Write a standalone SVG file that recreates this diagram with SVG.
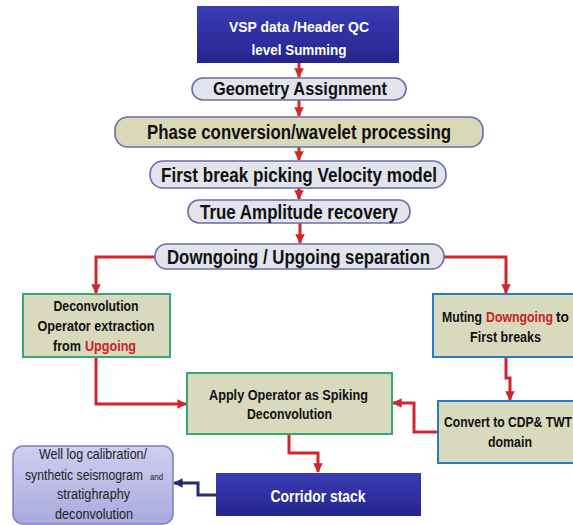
<svg xmlns="http://www.w3.org/2000/svg" width="573" height="525" viewBox="0 0 573 525">
<defs>
<style>
.t{font-family:"Liberation Sans",Arial,sans-serif;font-weight:bold;fill:#111;}
.w{fill:#fff;}
.r{fill:#c8222a;}
.n{font-family:"Liberation Sans",Arial,sans-serif;font-weight:normal;fill:#222;}
.pill{fill:#e3e3ec;stroke:#6b6baa;stroke-width:1.6;}
.pillg{fill:#d9d9b9;stroke:#6b6baa;stroke-width:1.6;}
.boxg{fill:#d9d9bd;stroke:#3aa673;stroke-width:2;}
.boxb{fill:#d9d9bd;stroke:#2a7cc0;stroke-width:2;}
.c{fill:none;stroke:#d0262c;stroke-width:3;}
.cn{fill:none;stroke:#2a2a6e;stroke-width:3;}
</style>
<linearGradient id="gb" x1="0" y1="0" x2="0" y2="1">
<stop offset="0" stop-color="#3b3bb4"/>
<stop offset="1" stop-color="#25258f"/>
</linearGradient>
<linearGradient id="gl" x1="0" y1="0" x2="0" y2="1">
<stop offset="0" stop-color="#cfcff2"/>
<stop offset="1" stop-color="#a9a9dd"/>
</linearGradient>
<marker id="ar" viewBox="0 0 10 10" refX="9" refY="5" markerWidth="3.2" markerHeight="3.2" orient="auto" markerUnits="strokeWidth">
<path d="M0,0 L10,5 L0,10 z" fill="#d0262c"/>
</marker>
<marker id="an" viewBox="0 0 10 10" refX="9" refY="5" markerWidth="3.2" markerHeight="3.2" orient="auto" markerUnits="strokeWidth">
<path d="M0,0 L10,5 L0,10 z" fill="#2a2a6e"/>
</marker>
</defs>
<rect width="573" height="525" fill="#fff"/>

<g id="connectors">
<path class="c" d="M299,63 V77" marker-end="url(#ar)"/>
<path class="c" d="M299,100 V116" marker-end="url(#ar)"/>
<path class="c" d="M299,147 V160" marker-end="url(#ar)"/>
<path class="c" d="M299,188 V199" marker-end="url(#ar)"/>
<path class="c" d="M300,223 V243" marker-end="url(#ar)"/>
<path class="c" d="M155,257 H96 V293" marker-end="url(#ar)"/>
<path class="c" d="M444,257 H506 V293" marker-end="url(#ar)"/>
<path class="c" d="M96,357 V404 H186" marker-end="url(#ar)"/>
<path class="c" d="M506,357 V378 H510 V400" marker-end="url(#ar)"/>
<path class="c" d="M438,432 H414 V403 H393" marker-end="url(#ar)"/>
<path class="c" d="M289,434 V453 H318 V472" marker-end="url(#ar)"/>
<path class="cn" d="M216,495 H198 V483 H174" marker-end="url(#an)"/>
</g>

<g id="vsp">
<rect x="197" y="6" width="202" height="57" fill="url(#gb)"/>
<text class="t w" x="299" y="32" font-size="15" text-anchor="middle" textLength="140" lengthAdjust="spacingAndGlyphs">VSP data /Header QC</text>
<text class="t w" x="299" y="55" font-size="15" text-anchor="middle" textLength="95" lengthAdjust="spacingAndGlyphs">level Summing</text>
</g>

<g id="geometry">
<rect class="pill" x="192" y="78" width="214" height="22" rx="11"/>
<text class="t" x="300" y="95" font-size="17.5" text-anchor="middle" textLength="174" lengthAdjust="spacingAndGlyphs">Geometry Assignment</text>
</g>

<g id="phase">
<rect class="pillg" x="115" y="117" width="368" height="30" rx="13"/>
<text class="t" x="299" y="139" font-size="20" text-anchor="middle" textLength="304" lengthAdjust="spacingAndGlyphs">Phase conversion/wavelet processing</text>
</g>

<g id="firstbreak">
<rect class="pill" x="150" y="161" width="296" height="27" rx="13"/>
<text class="t" x="299" y="182" font-size="20" text-anchor="middle" textLength="276" lengthAdjust="spacingAndGlyphs">First break picking  Velocity model</text>
</g>

<g id="trueamp">
<rect class="pill" x="188" y="200" width="222" height="23" rx="11"/>
<text class="t" x="299" y="219" font-size="20" text-anchor="middle" textLength="198" lengthAdjust="spacingAndGlyphs">True Amplitude recovery</text>
</g>

<g id="separation">
<rect class="pill" x="155" y="244" width="289" height="25" rx="12"/>
<text class="t" x="298.5" y="264" font-size="20" text-anchor="middle" textLength="263" lengthAdjust="spacingAndGlyphs">Downgoing / Upgoing separation</text>
</g>

<g id="deconv">
<rect class="boxg" x="23" y="294" width="147" height="63"/>
<text class="t" x="96" y="311" font-size="14" text-anchor="middle" textLength="85" lengthAdjust="spacingAndGlyphs">Deconvolution</text>
<text class="t" x="96" y="331" font-size="14" text-anchor="middle" textLength="117" lengthAdjust="spacingAndGlyphs">Operator extraction</text>
<text class="t" x="53" y="351" font-size="14" textLength="28" lengthAdjust="spacingAndGlyphs">from</text>
<text class="t r" x="85" y="351" font-size="14" textLength="51" lengthAdjust="spacingAndGlyphs">Upgoing</text>
</g>

<g id="muting">
<rect class="boxb" x="433" y="294" width="147" height="63"/>
<text class="t" x="442" y="322" font-size="14" textLength="40" lengthAdjust="spacingAndGlyphs">Muting</text>
<text class="t r" x="486" y="322" font-size="14" textLength="67" lengthAdjust="spacingAndGlyphs">Downgoing</text>
<text class="t" x="556" y="322" font-size="14" textLength="13" lengthAdjust="spacingAndGlyphs">to</text>
<text class="t" x="505.5" y="342" font-size="14" text-anchor="middle" textLength="71" lengthAdjust="spacingAndGlyphs">First breaks</text>
</g>

<g id="apply">
<rect class="boxg" x="187" y="373" width="205" height="61"/>
<text class="t" x="288.5" y="400" font-size="14" text-anchor="middle" textLength="159" lengthAdjust="spacingAndGlyphs">Apply Operator as Spiking</text>
<text class="t" x="289.5" y="419" font-size="14" text-anchor="middle" textLength="85" lengthAdjust="spacingAndGlyphs">Deconvolution</text>
</g>

<g id="convert">
<rect class="boxb" x="438" y="401" width="146" height="62"/>
<text class="t" x="444" y="427" font-size="14" textLength="128" lengthAdjust="spacingAndGlyphs">Convert to CDP&amp; TWT</text>
<text class="t" x="510" y="447" font-size="14" text-anchor="middle" textLength="44" lengthAdjust="spacingAndGlyphs">domain</text>
</g>

<g id="corridor">
<rect x="216" y="473" width="205" height="43" fill="url(#gb)"/>
<text class="t w" x="318" y="502" font-size="16" text-anchor="middle" textLength="95" lengthAdjust="spacingAndGlyphs">Corridor stack</text>
</g>

<g id="welllog">
<rect x="13" y="446" width="160" height="78" rx="10" fill="url(#gl)" stroke="#7d7dbd" stroke-width="1.5"/>
<text class="n" x="93" y="459" font-size="14" text-anchor="middle" textLength="108" lengthAdjust="spacingAndGlyphs">Well log calibration/</text>
<text class="n" x="25" y="480" font-size="14" textLength="118" lengthAdjust="spacingAndGlyphs">synthetic seismogram</text>
<text class="n" x="150" y="480" font-size="9" textLength="13" lengthAdjust="spacingAndGlyphs">and</text>
<text class="n" x="93.5" y="499" font-size="14" text-anchor="middle" textLength="73" lengthAdjust="spacingAndGlyphs">stratighraphy</text>
<text class="n" x="94" y="519" font-size="14" text-anchor="middle" textLength="78" lengthAdjust="spacingAndGlyphs">deconvolution</text>
</g>
</svg>
